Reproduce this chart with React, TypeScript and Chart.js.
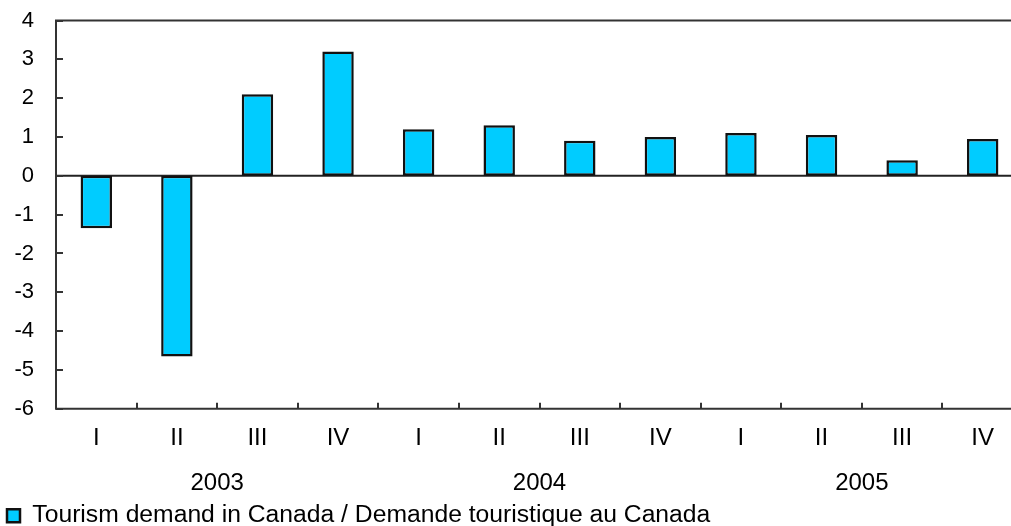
import React, { useEffect, useRef } from "react";
import { Chart, registerables } from "chart.js";

Chart.register(...registerables);

const quarters = ["I", "II", "III", "IV", "I", "II", "III", "IV", "I", "II", "III", "IV"];
const years = ["2003", "2004", "2005"];
const demandValues = [-1.35, -4.65, 2.1, 3.2, 1.2, 1.3, 0.9, 1.0, 1.1, 1.05, 0.4, 0.95];
const yMin = -6;
const yMax = 4;
const seriesLabel = "Tourism demand in Canada / Demande touristique au Canada";

const FONT = "'Liberation Sans', Arial, sans-serif";
const AXIS = "#333333";

const decorPlugin = {
  id: "decor",
  beforeDatasetsDraw(chart: any) {
    const { ctx, chartArea, scales } = chart;
    const y0 = scales.y.getPixelForValue(0);
    ctx.save();
    ctx.strokeStyle = "#222222";
    ctx.lineWidth = 2;
    ctx.beginPath();
    ctx.moveTo(chartArea.left, y0);
    ctx.lineTo(chartArea.right, y0);
    ctx.stroke();
    ctx.restore();
  },
  afterDraw(chart: any) {
    const { ctx, chartArea, scales } = chart;
    const { left, right, top, bottom } = chartArea;
    ctx.save();
    ctx.strokeStyle = AXIS;
    ctx.lineWidth = 2;
    ctx.beginPath();
    ctx.moveTo(left, top);
    ctx.lineTo(right, top);
    ctx.moveTo(left, top - 1);
    ctx.lineTo(left, bottom + 1);
    ctx.moveTo(left - 1, bottom);
    ctx.lineTo(right, bottom);
    ctx.stroke();
    ctx.beginPath();
    for (let v = yMin; v <= yMax; v++) {
      const py = Math.round(scales.y.getPixelForValue(v));
      ctx.moveTo(left, py);
      ctx.lineTo(left + 7, py);
    }
    const xs = scales.x;
    for (let i = 1; i < quarters.length; i++) {
      const px = Math.round((xs.getPixelForValue(i - 1) + xs.getPixelForValue(i)) / 2);
      ctx.moveTo(px, bottom);
      ctx.lineTo(px, bottom - 6);
    }
    ctx.stroke();
    ctx.restore();
  },
};

export default function App() {
  const ref = useRef<HTMLCanvasElement | null>(null);

  useEffect(() => {
    if (!ref.current) return;
    const chart = new Chart(ref.current, {
      type: "bar",
      data: {
        labels: quarters,
        datasets: [
          {
            label: seriesLabel,
            data: demandValues,
            backgroundColor: "#00CCFF",
            borderColor: "#111111",
            borderWidth: 2.5,
            borderSkipped: false,
            barPercentage: 0.39,
            categoryPercentage: 1,
          },
        ],
      },
      options: {
        responsive: false,
        animation: false,
        events: [],
        layout: { padding: { left: 0, top: 20.5, right: 12, bottom: 0 } },
        plugins: {
          tooltip: { enabled: false },
          legend: {
            display: true,
            position: "bottom",
            align: "start",
            labels: {
              boxWidth: 13,
              boxHeight: 13,
              padding: 7,
              color: "#000000",
              font: { family: FONT, size: 24.7 },
            },
          },
        },
        scales: {
          x: {
            type: "category",
            position: "bottom",
            weight: 0,
            offset: true,
            grid: { display: false, drawTicks: false },
            border: { display: false },
            ticks: {
              color: "#000000",
              padding: 15,
              maxRotation: 0,
              autoSkip: false,
              font: { family: FONT, size: 24 },
            },
            afterFit: (s: any) => {
              s.height = 48;
            },
          },
          x2: {
            type: "category",
            labels: years,
            position: "bottom",
            weight: 1,
            offset: true,
            grid: { display: false, drawTicks: false },
            border: { display: false },
            ticks: {
              color: "#000000",
              padding: 12,
              maxRotation: 0,
              autoSkip: false,
              font: { family: FONT, size: 24 },
            },
            afterFit: (s: any) => {
              s.height = 39.5;
            },
          },
          y: {
            type: "linear",
            min: yMin,
            max: yMax,
            grid: { display: false, drawTicks: false },
            border: { display: false },
            ticks: {
              stepSize: 1,
              color: "#000000",
              padding: 22,
              font: { family: FONT, size: 22 },
            },
            afterFit: (s: any) => {
              s.width = 56;
              s.paddingTop = 0;
              s.paddingBottom = 0;
            },
          },
        },
      },
      plugins: [decorPlugin],
    });
    return () => chart.destroy();
  }, []);

  return (
    <div
      style={{
        position: "fixed",
        left: 0,
        top: 0,
        width: 1011,
        height: 526,
        overflow: "hidden",
        background: "#ffffff",
      }}
    >
      <canvas ref={ref} width={1035} height={538} style={{ display: "block" }} />
    </div>
  );
}
